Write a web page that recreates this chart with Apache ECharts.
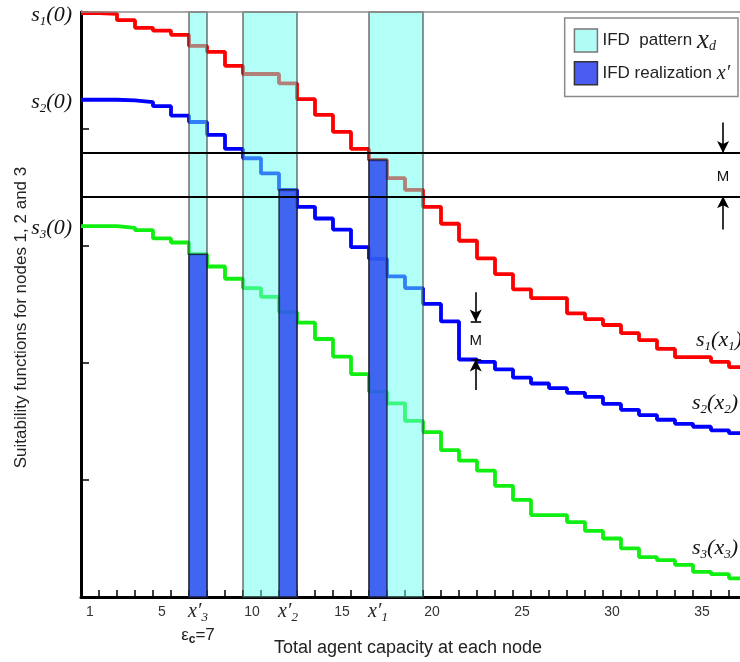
<!DOCTYPE html>
<html><head><meta charset="utf-8">
<script src="https://cdn.jsdelivr.net/npm/echarts@6/dist/echarts.min.js"></script>
<style>html,body{margin:0;padding:0;background:#fff}#c{width:740px;height:662px}</style>
</head><body><div id="c"></div>
<script>
// ---- data ----
const capacity = [1,2,3,4,5,6,7,8,9,10,11,12,13,14,15,16,17,18,19,20,21,22,23,24,25,26,27,28,29,30,31,32,33,34,35,36,37];
const s1 = [99.8,99.7,98.6,97.3,96.8,96.1,94.2,93.2,90.8,89.4,89.4,87.8,85.1,82.4,79.5,76.6,74.7,71.6,69.6,66.7,63.8,60.9,57.9,55.2,52.6,51.1,51.1,48.5,47.5,46.5,45.1,43.9,42.4,41.0,41.0,40.2,39.3];
const s2 = [85.0,85.0,84.9,84.6,83.9,82.3,81.2,79.0,76.6,75.0,72.4,69.6,66.7,64.7,62.8,59.8,57.8,54.8,52.8,50.1,47.1,40.6,40.2,38.9,37.5,36.5,35.7,34.9,34.2,33.0,32.0,31.1,30.3,29.6,29.1,28.5,28.0];
const s3 = [63.4,63.4,63.1,62.7,61.3,60.6,58.6,56.5,54.4,52.8,51.3,48.7,46.9,44.1,41.1,38.1,35.1,33.1,30.1,28.2,25.1,23.3,21.6,19.0,16.6,14.0,14.0,12.8,11.3,10.0,8.3,6.8,6.3,5.5,4.3,3.9,3.2];
const numberTicks = [1,5,10,15,20,25,30,35];
const xPrime = {1:17, 2:12, 3:7};          // IFD realization x'
const epsilonC = 7;
const patternRanges = [[7,7],[10,12],[17,19]]; // IFD pattern x_d (first, last capacity)
const sepLines = [75.9, 68.5];             // the two horizontal M lines
const mDropCell = 21;                      // blue drop of size M after this capacity
const yMax = 100;

// ---- helpers ----
function stepData(vals){
  const d = vals.map((v,i)=>[i, v]);
  d.push([vals.length, vals[vals.length-1]]);
  return d;
}
const primeByCap = {};
Object.keys(xPrime).forEach(k=>{ primeByCap[xPrime[k]] = k; });

const serif = "'Liberation Serif','Times New Roman',serif";
const sans = "'Liberation Sans',Arial,sans-serif";

const axisRich = {
  n:{fontFamily:sans,fontSize:14,color:'#333',lineHeight:24},
  x:{fontFamily:serif,fontStyle:'italic',fontSize:20,color:'#222',lineHeight:24},
  xs:{fontFamily:serif,fontStyle:'italic',fontSize:13,color:'#222',lineHeight:13,verticalAlign:'bottom'},
  e:{fontFamily:sans,fontSize:17,color:'#222',lineHeight:22},
  ec:{fontFamily:sans,fontWeight:'bold',fontSize:12,color:'#222',lineHeight:12,verticalAlign:'bottom'}
};
const sRich = {
  s:{fontFamily:serif,fontStyle:'italic',fontSize:22,color:'#111',lineHeight:26},
  b:{fontFamily:serif,fontStyle:'italic',fontSize:13,color:'#111',lineHeight:13,verticalAlign:'bottom'}
};

function rectItem(fill, stroke, lw){
  return function(params, api){
    const p0 = api.coord([api.value(0), api.value(2)]);
    const p1 = api.coord([api.value(1), 0]);
    return {type:'rect', shape:{x:p0[0], y:p0[1], width:p1[0]-p0[0], height:p1[1]-p0[1]},
      style:{fill:fill, stroke:stroke, lineWidth:lw}};
  };
}

const curves = [s1, s2, s3];
const colors = ['#ff0000','#0000ff','#11ee11'];
const endOffsets = [[-15,-22],[-19,-27],[-19,-26]];

const lineSeries = curves.map((vals, i)=>({
  type:'line', xAxisIndex:1, yAxisIndex:0, step:'end', symbol:'none', silent:true, z:2,
  data: stepData(vals),
  lineStyle:{color:colors[i], width:3.8},
  markPoint:{symbol:'circle', symbolSize:0, silent:true, data:[
    {coord:[0, vals[0]], label:{show:true, position:[-9,2], align:'right', verticalAlign:'middle',
      formatter:'{s|s}{b|'+(i+1)+'}{s|(0)}', rich:sRich}},
    {coord:[35, vals[35]], label:{show:true, position:endOffsets[i], align:'left', verticalAlign:'middle',
      formatter:'{s|s}{b|'+(i+1)+'}{s|(x}{b|'+(i+1)+'}{s|)}', rich:sRich}}
  ]}
}));

const realizationData = [3,2,1].map(n=>{
  const c = xPrime[n];
  return [c-1, c, curves[n-1][c-1]];
});

const arrowEnd = {symbol:'arrow', symbolSize:[9,12]};
const blk = {color:'#000', width:1.6, type:'solid'};
const mTop = s2[mDropCell-1], mBot = s2[mDropCell];
const mx = mDropCell + 0.93;
const rx = 35.67;

const option = {
  animation:false,
  backgroundColor:'#fff',
  grid:{left:81, top:12, width:666, height:585, outerBoundsMode:'none', containLabel:false},
  legend:{
    right:2, top:18, orient:'vertical', selectedMode:false,
    itemWidth:23, itemHeight:23, itemGap:7, padding:[9,8,11,9],
    borderColor:'#8a8a8a', borderWidth:1.5, backgroundColor:'#fff', icon:'rect',
    data:[
      {name:'IFD pattern', itemStyle:{color:'#b2fcf6', borderColor:'#777', borderWidth:1.5}},
      {name:'IFD realization', itemStyle:{color:'#4a5cf2', borderColor:'#333', borderWidth:1.5}}
    ],
    formatter:function(name){
      return name==='IFD pattern' ? '{t|IFD  pattern }{xi|x}{xd|d}' : '{t|IFD realization }{xp|x′}';
    },
    textStyle:{rich:{
      t:{fontFamily:sans,fontSize:17,color:'#222',lineHeight:26},
      xi:{fontFamily:serif,fontStyle:'italic',fontSize:27,color:'#222',lineHeight:26},
      xd:{fontFamily:serif,fontStyle:'italic',fontSize:14,color:'#222',lineHeight:14,verticalAlign:'bottom'},
      xp:{fontFamily:serif,fontStyle:'italic',fontSize:20,color:'#222',lineHeight:26}
    }}
  },
  xAxis:[
    {type:'category', data:capacity, boundaryGap:true, position:'bottom',
     axisLine:{lineStyle:{color:'#000', width:3}},
     axisTick:{show:true, inside:true, length:7, interval:0, lineStyle:{color:'#000', width:1.5}},
     axisLabel:{interval:0, margin:3, rich:axisRich, formatter:function(v){
        const c = +v;
        if (primeByCap[c]) {
          let s = '{x|x′}{xs|'+primeByCap[c]+'}';
          if (c === epsilonC) s += '\n{e|ε}{ec|c}{e|='+epsilonC+'}';
          return s;
        }
        if (numberTicks.indexOf(c) >= 0) return '{n|'+c+'}';
        return '';
     }},
     splitLine:{show:false},
     name:'Total agent capacity at each node', nameLocation:'middle', nameGap:42, nameMoveOverlap:false,
     nameTextStyle:{fontFamily:sans, fontSize:18, color:'#222', padding:[0,12,0,0]}
    },
    {type:'value', min:0, max:capacity.length, show:false}
  ],
  yAxis:{type:'value', min:0, max:yMax, interval:20,
    axisLine:{show:true, lineStyle:{color:'#000', width:3}},
    axisTick:{show:true, inside:true, length:8, lineStyle:{color:'#000', width:1.5}},
    axisLabel:{show:false}, splitLine:{show:false},
    name:'Suitability functions for nodes 1, 2 and 3', nameLocation:'middle', nameGap:51, nameMoveOverlap:false,
    nameTextStyle:{fontFamily:sans, fontSize:17, color:'#222', padding:[0,26,0,0]}
  },
  series:[
    ...lineSeries,
    {type:'custom', name:'IFD pattern', xAxisIndex:1, z:3, silent:true,
     itemStyle:{color:'#b2fcf6', borderColor:'#777', borderWidth:1.5},
     encode:{x:[0,1], y:2},
     data: patternRanges.map(r=>[r[0]-1, r[1], yMax]),
     renderItem: rectItem('rgba(100,255,240,0.5)', 'rgba(60,60,60,0.55)', 2)},
    {type:'custom', name:'IFD realization', xAxisIndex:1, z:4, silent:true,
     itemStyle:{color:'#4a5cf2', borderColor:'#333', borderWidth:1.5},
     encode:{x:[0,1], y:2},
     data: realizationData,
     renderItem: rectItem('rgba(45,75,240,0.85)', 'rgba(20,20,40,0.8)', 1.5)},
    {type:'line', xAxisIndex:1, z:5, silent:true, data:[],
     markLine:{silent:true, symbol:['none','none'], label:{show:false}, lineStyle:blk, data:[
       {yAxis:yMax, lineStyle:{color:'#8c8c8c', width:1.5, type:'solid'}},
       {yAxis:sepLines[0], lineStyle:{color:'#000', width:2, type:'solid'}},
       {yAxis:sepLines[1], lineStyle:{color:'#000', width:2, type:'solid'}},
       [{coord:[rx, sepLines[0]+5.2]}, Object.assign({coord:[rx, sepLines[0]]}, arrowEnd)],
       [{coord:[rx, sepLines[1]-5.7]}, Object.assign({coord:[rx, sepLines[1]]}, arrowEnd)],
       [{coord:[mx, mTop+5.0]}, Object.assign({coord:[mx, mTop]}, arrowEnd)],
       [{coord:[mx, mBot-5.2]}, Object.assign({coord:[mx, mBot]}, arrowEnd)],
       [{coord:[mx-0.28, mTop]}, {coord:[mx+0.3, mTop]}],
       [{coord:[mx-0.28, mBot]}, {coord:[mx+0.3, mBot]}]
     ]},
     markPoint:{symbol:'circle', symbolSize:0, silent:true,
       label:{show:true, formatter:'M', position:'inside', fontFamily:sans, fontSize:15, color:'#111'},
       data:[
         {coord:[rx, (sepLines[0]+sepLines[1])/2 - 0.4]},
         {coord:[mx, (mTop+mBot)/2]}
       ]}
    }
  ]
};
const chart = echarts.init(document.getElementById('c'), null, {renderer:'canvas'});
chart.setOption(option);
</script>
</body></html>
